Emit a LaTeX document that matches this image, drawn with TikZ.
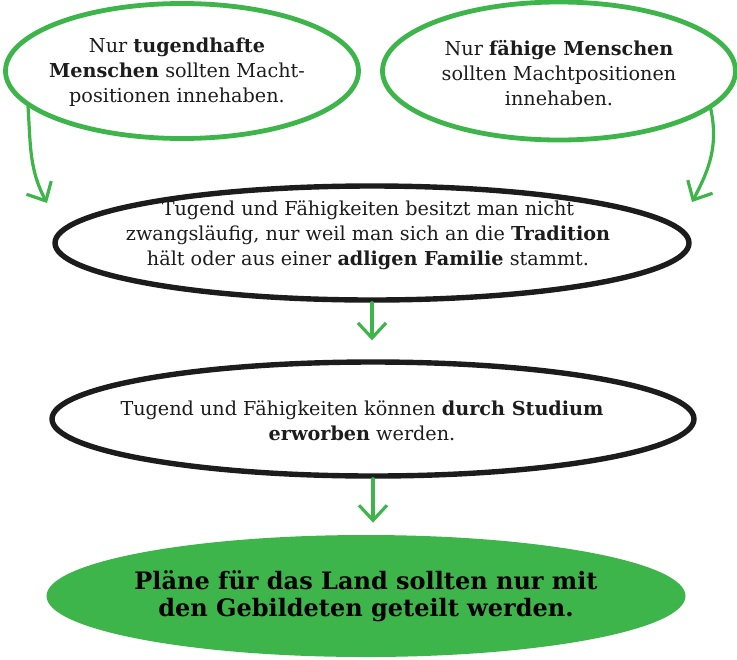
\documentclass[tikz,border=0pt]{standalone}
\usepackage{fontspec}
\setmainfont{DejaVu Serif}
\usetikzlibrary{shapes.geometric,arrows.meta}
\definecolor{leafgreen}{RGB}{61,181,74}
\definecolor{inkblack}{RGB}{28,28,28}
\begin{document}
\begin{tikzpicture}[x=0.5pt, y=0.5pt,
  greenoval/.style={ellipse, draw=leafgreen, line width=2.4pt, inner sep=0pt},
  blackoval/.style={ellipse, draw=inkblack, line width=2.7pt, inner sep=0pt},
  finaloval/.style={ellipse, fill=leafgreen, inner sep=0pt},
  ovaltext/.style={align=center, inner sep=0pt, text=inkblack, font=\fontsize{9.6}{12.4}\selectfont},
  finaltext/.style={align=center, inner sep=0pt, text=black, font=\fontsize{12}{13.6}\selectfont\bfseries},
  flow/.style={draw=leafgreen, line width=1.6pt, line cap=round,
    -{Straight Barb[length=7.5pt, width=14pt, line width=1.6pt]}}]
  \useasboundingbox (0,0) rectangle (737,-659);
  \node[greenoval, minimum width=176.5pt, minimum height=67.5pt] (tl) at (182,-71) {};
  \node[greenoval, minimum width=176.5pt, minimum height=69pt] (tr) at (559,-71) {};
  \node[blackoval, minimum width=317pt, minimum height=57pt] (mid) at (372,-243) {};
  \node[blackoval, minimum width=321pt, minimum height=57pt] (low) at (373,-419) {};
  \node[finaloval, minimum width=319.5pt, minimum height=61pt] (fin) at (366,-596) {};
  \node[ovaltext] (tltxt) at (177,-72) {Nur \textbf{tugendhafte}\\\textbf{Menschen} sollten Macht-\\positionen innehaben.};
  \node[ovaltext] (trtxt) at (559,-73) {Nur \textbf{fähige Menschen}\\sollten Machtpositionen\\innehaben.};
  \node[ovaltext] (midtxt) at (368,-235) {Tugend und Fähigkeiten besitzt man nicht\\zwangsläufig, nur weil man sich an die \textbf{Tradition}\\hält oder aus einer \textbf{adligen Familie} stammt.};
  \node[ovaltext] (lowtxt) at (362,-421) {Tugend und Fähigkeiten können \textbf{durch Studium}\\\textbf{erworben} werden.};
  \node[finaltext] (fintxt) at (366,-596) {Pläne für das Land sollten nur mit\\den Gebildeten geteilt werden.};
  \coordinate (tipl) at (47,-203);
  \coordinate (tipr) at (692,-202);
  \draw[flow] (tl.-167) to[out=-86, in=118] (tipl);
  \draw[flow] (tr.-14) to[out=-78, in=62] (tipr);
  \draw[flow, shorten >=9.5pt] (mid.south) -- (mid.south |- low.north);
  \draw[flow, shorten >=6pt] (low.south) -- (low.south |- fin.north);
\end{tikzpicture}
\end{document}
